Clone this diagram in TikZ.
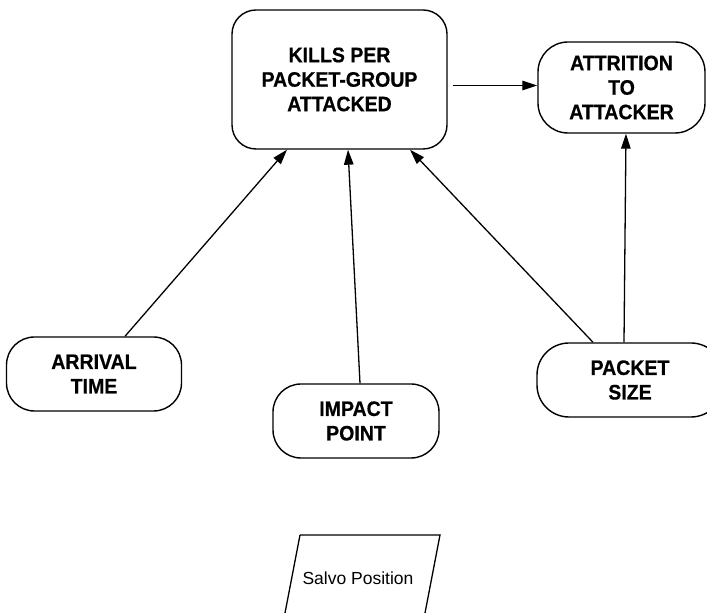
\documentclass[tikz,border=0pt]{standalone}
\usepackage{fontspec}
\setmainfont{Liberation Sans}
\newfontfamily\boxfont{Liberation Sans}[FakeStretch=0.93,FakeBold=0.6,BoldFont={Liberation Sans Bold}]
\usetikzlibrary{arrows.meta,calc,shapes.geometric}
\begin{document}
\begin{tikzpicture}[x=1pt,y=1pt,
  box/.style={draw, line width=1.4pt, rounded corners=28pt, align=center,
    font=\boxfont\bfseries\fontsize{21}{24.5}\selectfont, inner sep=0pt},
  link/.style={line width=1.3pt, -{Triangle[length=15pt,width=9.5pt]}}]
\useasboundingbox (0,0) rectangle (707,613);

% model variables
\node[box, rounded corners=24pt, minimum width=215pt, minimum height=139pt]
  (kills) at (339.5,533.5) {KILLS PER\\PACKET-GROUP\\ATTACKED};
\node[box, rounded corners=30pt, minimum width=167pt, minimum height=91pt]
  (attr) at (621.5,525.5) {ATTRITION\\TO\\ATTACKER};
\node[box, minimum width=175pt, minimum height=74pt]
  (arrival) at (94,239) {ARRIVAL\\TIME};
\node[box, minimum width=166pt, minimum height=74pt]
  (impact) at (356,192) {IMPACT\\POINT};
\node[box, rounded corners=32pt, minimum width=186pt, minimum height=74pt]
  (packet) at (630,233) {PACKET\\SIZE};

% input parallelogram
\draw[line width=1.3pt] (300,78) -- (440,78) -- (425,0) (285,0) -- (300,78);
\node[font=\fontsize{17.5}{20}\selectfont] (salvo) at (358,35) {Salvo Position};

% influences
\coordinate (k1) at ($(kills.east)+(5,-6)$);
\draw[link] (k1) -- (k1 -| attr.west);
\draw[link] ($(arrival.north)+(31,0)$) -- ($(kills.south)+(-52.5,0)$);
\draw[link] ($(impact.north)+(4,0)$) -- ($(kills.south)+(8.5,0)$);
\draw[link] ($(packet.north)+(-37,0)$) -- ($(kills.south)+(70.5,0)$);
\draw[link] ($(packet.north)+(-6,0)$) -- ($(attr.south)+(4.5,0)$);
\end{tikzpicture}
\end{document}
